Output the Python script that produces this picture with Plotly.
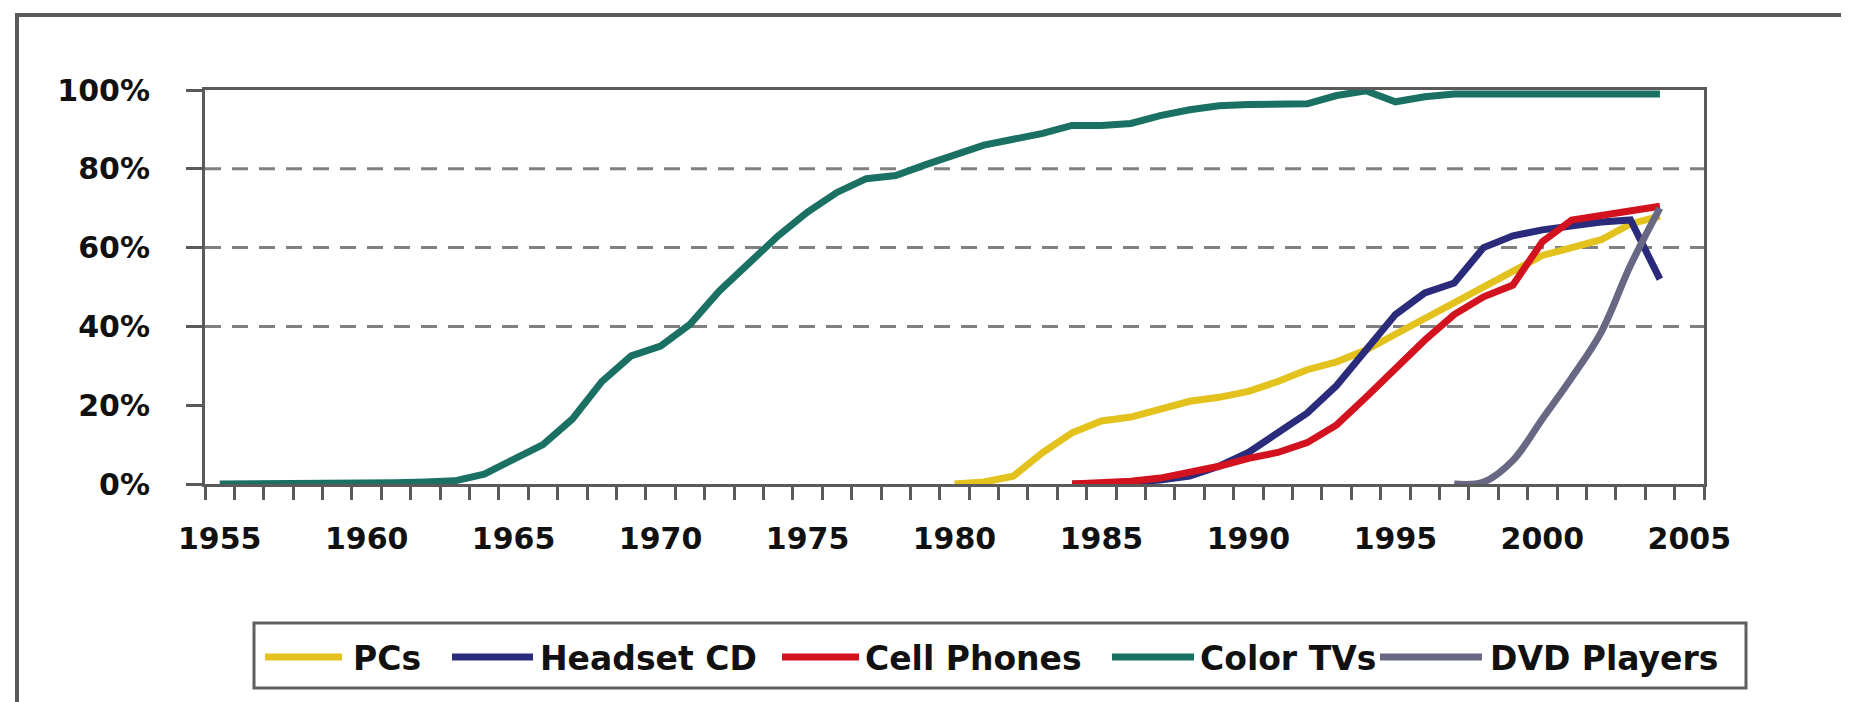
import plotly.graph_objects as go

# ---------------- data ----------------
tv_years = list(range(1955, 2005))
tv_values = [0, 0, 0, 0.3, 0.3, 0.3, 0.3, 0.5, 0.8, 2.5,
             6.5, 10, 16.5, 26, 32.5, 35, 40.5, 49, 56, 63,
             69, 74, 77.5, 78.3, 81, 83.5, 86, 87.5, 89, 91,
             91, 91.5, 93.5, 95, 96, 96.3, 96.3, 96.5, 98.6, 99.8,
             97, 98.3, 99, 99, 99, 99, 99, 99, 99, 99]

pc_years = list(range(1980, 2005))
pc_values = [0, 0.5, 2, 8, 13, 16, 17, 19, 21, 22, 23.5, 26, 29, 31, 34,
             38, 42, 46.5, 50, 54, 58, 60, 62, 66, 68]

cd_years = list(range(1984, 2005))
cd_values = [0, 0, 0.5, 1, 2, 4.5, 8, 13, 18, 25, 34, 43, 48.5, 51, 60,
             63, 64.5, 65.5, 66.5, 67, 52]

cell_years = list(range(1984, 2005))
cell_values = [0, 0.3, 0.7, 1.5, 3, 4.5, 6.5, 8, 10.5, 15, 22, 29.5, 36.5,
               43, 47.5, 50.5, 61.5, 67, 68.3, 69.3, 70.5]

dvd_years = list(range(1997, 2005))
dvd_values = [0, 0.5, 6, 16.5, 27, 38.5, 55.5, 70]

series_names = ["PCs", "Headset CD", "Cell Phones", "Color TVs", "DVD Players"]
series_colors = ["#E3C21E", "#2B2B7B", "#D2121E", "#1A7062", "#686884"]

x_tick_years = [1955, 1960, 1965, 1970, 1975, 1980, 1985, 1990, 1995, 2000, 2005]
y_tick_vals = [0, 20, 40, 60, 80, 100]
y_tick_text = ["0%", "20%", "40%", "60%", "80%", "100%"]
grid_vals = [40, 60, 80]

# ---------------- layout constants (pixels) ----------------
W, H = 1849, 702
L, R, T, B = 197, 1696, 82, 476
PW, PH = R - L, B - T


def px(x):
    return (x - L) / PW


def py(y):
    return (B - y) / PH


fig = go.Figure()
series = [(pc_years, pc_values), (cd_years, cd_values), (cell_years, cell_values),
          (tv_years, tv_values), (dvd_years, dvd_values)]
for (xs, ys), name, col in zip(series, series_names, series_colors):
    fig.add_trace(go.Scatter(
        x=xs, y=ys, name=name, mode="lines",
        line=dict(color=col, width=7, shape="spline" if name == "DVD Players" else "linear",
                  smoothing=1.0),
        showlegend=False))

axis_col = "#5a5a5a"
tick_font = dict(family="DejaVu Sans", size=30, color="#111111", weight="bold")

fig.update_xaxes(
    range=[1954.5, 2005.5], tickmode="array", tickvals=x_tick_years,
    ticktext=[str(v) for v in x_tick_years], ticks="", showgrid=False,
    zeroline=False, showline=True, mirror=True, linecolor=axis_col, linewidth=3,
    tickfont=tick_font, ticklabelstandoff=26,
    minor=dict(tick0=1954.5, dtick=1, ticks="outside", ticklen=13, tickwidth=3,
               tickcolor=axis_col, showgrid=False),
)
fig.update_yaxes(
    range=[0, 100], tickmode="array", tickvals=y_tick_vals, ticktext=y_tick_text,
    ticks="outside", ticklen=16, tickwidth=3, tickcolor=axis_col, showgrid=False,
    zeroline=False, showline=True, mirror=True, linecolor=axis_col, linewidth=3,
    tickfont=tick_font, ticklabelstandoff=30,
)

shapes = []
for g in grid_vals:
    shapes.append(dict(type="line", xref="paper", yref="y", x0=0, x1=1, y0=g, y1=g,
                       line=dict(color="#808080", width=3, dash="16px,11px"), layer="below"))
# outer border
shapes.append(dict(type="rect", xref="paper", yref="paper",
                   x0=px(9), x1=px(1843), y0=py(700), y1=py(7),
                   line=dict(color="#5a5a5a", width=4)))
# legend box
shapes.append(dict(type="rect", xref="paper", yref="paper",
                   x0=px(246), x1=px(1738), y0=py(680), y1=py(615),
                   line=dict(color="#606060", width=3)))

legend_sym = [(257, 334), (444, 525), (774, 851), (1104, 1186), (1372, 1474)]
legend_txt = [343, 530, 855, 1190, 1480]
leg_y = 649
annotations = []
for (a, b), tx, name, col in zip(legend_sym, legend_txt, series_names, series_colors):
    shapes.append(dict(type="line", xref="paper", yref="paper", x0=px(a), x1=px(b),
                       y0=py(leg_y), y1=py(leg_y), line=dict(color=col, width=7)))
    annotations.append(dict(xref="paper", yref="paper", x=px(tx), y=py(leg_y + 1),
                            text=name, showarrow=False, xanchor="left", yanchor="middle",
                            font=dict(family="DejaVu Sans", size=33, color="#111111",
                                      weight="bold")))

fig.update_layout(
    width=W, height=H, autosize=False,
    margin=dict(l=L, r=W - R, t=T, b=H - B),
    paper_bgcolor="white", plot_bgcolor="white",
    shapes=shapes, annotations=annotations,
)

fig.write_html("out.html")
